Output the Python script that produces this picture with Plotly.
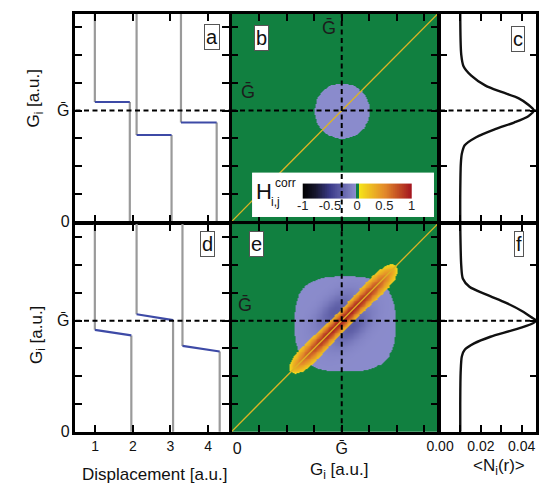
import numpy as np
import plotly.graph_objects as go

W, H = 539, 491
FONT = "Liberation Sans, Arial, sans-serif"
GBAR_TXT = "\u1E20"

# ---------------- data ----------------
G_BAR = 4.0          # position of G-bar on the G axes (a.u.)
G_TOP = 7.48         # top of the G axes
DISP_RANGE = [0.475, 4.56]
N_RANGE = [0, 0.0472]

# panel a: three trajectories (start/end displacement and G level of the blue plateau)
a_x_start = [0.99, 2.10, 3.28]
a_x_end = [1.92, 3.03, 4.23]
a_g_start = [4.31, 3.12, 3.57]
a_g_end = [4.31, 3.12, 3.57]

# panel d
d_x_start = [0.99, 2.10, 3.32]
d_x_end = [1.96, 3.07, 4.31]
d_g_start = [3.67, 4.23, 3.09]
d_g_end = [3.47, 4.02, 2.89]

# panel c: <N_i(r)> profile
c_g = [0.0, 1.0, 2.10, 2.45, 2.75, 3.04, 3.33, 3.57, 3.80, 4.00, 4.21, 4.44, 4.67, 4.90, 5.26, 5.60, 6.01, 7.48]
c_n = [0.0099, 0.0099, 0.0102, 0.0107, 0.0121, 0.0177, 0.0270, 0.0363, 0.0433, 0.0460, 0.0433, 0.0386,
       0.0301, 0.0223, 0.0153, 0.0115, 0.0104, 0.0099]

# panel f
f_g = [0.0, 1.0, 2.13, 2.72, 2.95, 3.18, 3.42, 3.65, 3.88, 4.00, 4.12, 4.35, 4.64, 4.93, 5.22, 5.51, 5.98, 7.48]
f_n = [0.0099, 0.0099, 0.0101, 0.0107, 0.0121, 0.0167, 0.0247, 0.0353, 0.0448, 0.0470, 0.0448, 0.0401,
       0.0324, 0.0231, 0.0144, 0.0112, 0.0104, 0.0099]

disp_ticks = [1, 2, 3, 4]
g_ticks = [0, 1, 2, 3, 4, 5, 6, 7]
g_ticktext = ["0", "", "", "", GBAR_TXT, "", "", ""]
n_ticks = [0.0, 0.01, 0.02, 0.03, 0.04]
n_ticktext = ["0.00", "", "0.02", "", "0.04"]
cb_ticks = [-1, -0.5, 0, 0.5, 1]
cb_labels = ["-1", "-0.5", "0", "0.5", "1"]
diag = [0.0, G_TOP]

# correlation-map parameters (H_ij^corr)
b_disk_center = (4.0, 4.0)
b_disk_radius = 1.0
b_disk_value = -0.04
e_blob_center = (4.1, 3.9)
e_blob_half = (1.82, 1.70)
e_blob_edge = -0.04
e_lobe_depth = -0.26
e_ridge_center = (4.05, 4.07)
e_ridge_half_len = 2.70
e_ridge_half_width = 0.31
e_ridge_peak = 0.88

# ---------------- correlation maps ----------------
n = 240
h = G_TOP / n
gc = (np.arange(n) + 0.5) * h
X, Y = np.meshgrid(gc, gc)

zb = np.zeros_like(X)
rb = np.hypot(X - b_disk_center[0], Y - b_disk_center[1])
zb[rb <= b_disk_radius] = b_disk_value

ze = np.zeros_like(X)
dxb = X - e_blob_center[0]
dyb = Y - e_blob_center[1]
blob = (np.abs(dxb) / e_blob_half[0]) ** 3 + (np.abs(dyb) / e_blob_half[1]) ** 3 <= 1
dx = X - e_ridge_center[0]
dy = Y - e_ridge_center[1]
s = (dx + dy) / np.sqrt(2)
t = (dy - dx) / np.sqrt(2)
lobe = np.exp(-(s / 0.85) ** 2 - ((np.abs(t) - 0.4) / 0.42) ** 2)
ze[blob] = (e_blob_edge + e_lobe_depth * lobe)[blob]
L = e_ridge_half_len
u = np.clip(np.abs(s) / L, 0, 1)
w = e_ridge_half_width * np.sqrt(np.clip(1 - u ** 4, 0, 1)) * (1 + 0.6 * u ** 2)
ridge = (np.abs(s) < L) & (np.abs(t) <= w)
val = 0.06 + e_ridge_peak * np.exp(-(t / (0.8 * w + 1e-9)) ** 2) * np.clip(1 - u ** 2, 0, 1) ** 0.6
ze[ridge] = val[ridge]
zb = np.round(zb, 3)
ze = np.round(ze, 3)

colorscale = [
    [0.0, "#000000"], [0.12, "#16162e"], [0.25, "#3a3a88"], [0.485, "#8c8dcd"],
    [0.485, "#118040"], [0.515, "#118040"], [0.515, "#f6e51a"], [0.75, "#e38a2a"], [1.0, "#a3141f"],
]

GRAY = "#9a9a9a"
BLUE = "#3d4aa6"

fig = go.Figure()


def steps(xs, xe, gs, ge, xa, ya):
    for x0, x1, g0, g1 in zip(xs, xe, gs, ge):
        fig.add_trace(go.Scatter(x=[x0, x0], y=[G_TOP + 1, g0], mode="lines",
                                 line=dict(color=GRAY, width=2.2), xaxis=xa, yaxis=ya,
                                 showlegend=False, hoverinfo="skip"))
        fig.add_trace(go.Scatter(x=[x1, x1], y=[g1, -1], mode="lines",
                                 line=dict(color=GRAY, width=2.2), xaxis=xa, yaxis=ya,
                                 showlegend=False, hoverinfo="skip"))
        fig.add_trace(go.Scatter(x=[x0, x1], y=[g0, g1], mode="lines",
                                 line=dict(color=BLUE, width=2.2), xaxis=xa, yaxis=ya,
                                 showlegend=False, hoverinfo="skip"))


steps(a_x_start, a_x_end, a_g_start, a_g_end, "x", "y")
steps(d_x_start, d_x_end, d_g_start, d_g_end, "x4", "y4")

for zz, xa, ya in [(zb, "x2", "y2"), (ze, "x5", "y5")]:
    fig.add_trace(go.Heatmap(x=gc, y=gc, z=zz, coloraxis="coloraxis", xaxis=xa, yaxis=ya,
                             zsmooth="best", hoverinfo="skip"))
    fig.add_trace(go.Scatter(x=diag, y=diag, mode="lines", line=dict(color="#dcb424", width=1.3),
                             xaxis=xa, yaxis=ya, showlegend=False, hoverinfo="skip"))

for gg, nn, xa, ya in [(c_g, c_n, "x3", "y3"), (f_g, f_n, "x6", "y6")]:
    fig.add_trace(go.Scatter(x=nn, y=gg, mode="lines",
                             line=dict(color="#111111", width=2.4, shape="spline", smoothing=0.8),
                             xaxis=xa, yaxis=ya, showlegend=False, hoverinfo="skip"))

# colour-bar inset: white box (subplot 7) and bar + labels (subplot 8, drawn on top)
CB_XR = [-1.9286, 1.4107]
CB_YR = [0, 45]
CB_BAR_Y = [19, 34]
CB_LABEL_Y = 10.5
cb_edges = np.linspace(-1, 1, 161)
cb_vals = (cb_edges[:-1] + cb_edges[1:]) / 2
fig.add_trace(go.Scatter(x=[-1.9107, 1.3929, 1.3929, -1.9107, -1.9107], y=[1, 1, 44, 44, 1],
                         mode="lines", fill="toself", fillcolor="white",
                         line=dict(color="#8a8a8a", width=1), xaxis="x7", yaxis="y7",
                         showlegend=False, hoverinfo="skip"))
fig.add_trace(go.Heatmap(x=cb_edges, y=CB_BAR_Y, z=[cb_vals], coloraxis="coloraxis",
                         xaxis="x8", yaxis="y8", hoverinfo="skip"))
fig.add_trace(go.Scatter(x=cb_ticks, y=[CB_LABEL_Y] * len(cb_ticks), mode="text", text=cb_labels,
                         textposition="middle center",
                         textfont=dict(family=FONT, size=13, color="#222"), cliponaxis=False,
                         xaxis="x8", yaxis="y8", showlegend=False, hoverinfo="skip"))

# ---------------- layout ----------------
LW = 2.5
HL = LW / 2
XB = [62, 222.5, 437, 538.5]     # vertical frame lines (px)
YB = [13, 227, 441]              # horizontal frame lines (px)


def xdom(i):
    return [(XB[i] + HL) / W, (XB[i + 1] - HL) / W]


def ydom(j):
    return [1 - (YB[j + 1] - HL) / H, 1 - (YB[j] + HL) / H]


base = dict(showline=True, linewidth=LW, linecolor="black", mirror="ticks", ticks="inside",
            ticklen=7, tickwidth=2, tickcolor="black", showgrid=False, zeroline=False,
            tickfont=dict(family=FONT, size=14, color="#111"), fixedrange=True)


def axis(dom, rng, anchor, **kw):
    d = dict(base)
    d.update(domain=dom, range=rng, anchor=anchor)
    d.update(kw)
    return d


TF16 = dict(family=FONT, size=16, color="#111")
lay = {}
# a
lay["xaxis"] = axis(xdom(0), DISP_RANGE, "y", tickmode="array", tickvals=disp_ticks, showticklabels=False)
lay["yaxis"] = axis(ydom(0), [0, G_TOP], "x", tickmode="array", tickvals=g_ticks, ticktext=g_ticktext,
                    tickfont=TF16)
# b
lay["xaxis2"] = axis(xdom(1), [0, G_TOP], "y2", tickmode="array", tickvals=g_ticks, showticklabels=False)
lay["yaxis2"] = axis(ydom(0), [0, G_TOP], "x2", tickmode="array", tickvals=g_ticks, showticklabels=False)
# c
lay["xaxis3"] = axis(xdom(2), N_RANGE, "y3", tickmode="array", tickvals=n_ticks, showticklabels=False)
lay["yaxis3"] = axis(ydom(0), [0, G_TOP], "x3", tickmode="array", tickvals=[2, 4, 6], showticklabels=False)
# d
lay["xaxis4"] = axis(xdom(0), DISP_RANGE, "y4", tickmode="array", tickvals=disp_ticks)
lay["yaxis4"] = axis(ydom(1), [0, G_TOP], "x4", tickmode="array", tickvals=g_ticks, ticktext=g_ticktext,
                     tickfont=TF16)
# e
lay["xaxis5"] = axis(xdom(1), [0, G_TOP], "y5", tickmode="array", tickvals=g_ticks,
                     ticktext=["\u2002\u20090", "", "", "", GBAR_TXT, "", "", ""],
                     tickfont=TF16)
lay["yaxis5"] = axis(ydom(1), [0, G_TOP], "x5", tickmode="array", tickvals=g_ticks, showticklabels=False)
# f
lay["xaxis6"] = axis(xdom(2), N_RANGE, "y6", tickmode="array", tickvals=n_ticks, ticktext=n_ticktext)
lay["yaxis6"] = axis(ydom(1), [0, G_TOP], "x6", tickmode="array", tickvals=[2, 4, 6], showticklabels=False)
# colour-bar inset
for k in ("7", "8"):
    lay["xaxis" + k] = dict(domain=[245 / W, 432 / W], range=CB_XR, anchor="y" + k, visible=False, fixedrange=True)
    lay["yaxis" + k] = dict(domain=[1 - 221 / H, 1 - 176 / H], range=CB_YR, anchor="x" + k, visible=False, fixedrange=True)

shapes = []
DASH = "5px,3.5px"
for xa, ya in [("x", "y"), ("x2", "y2"), ("x3", "y3"), ("x4", "y4"), ("x5", "y5"), ("x6", "y6")]:
    shapes.append(dict(type="line", xref=xa + " domain", yref=ya, x0=0, x1=1, y0=G_BAR, y1=G_BAR,
                       line=dict(color="black", width=2, dash=DASH), layer="above"))
for xa, ya in [("x2", "y2"), ("x5", "y5")]:
    shapes.append(dict(type="line", xref=xa, yref=ya + " domain", x0=G_BAR, x1=G_BAR, y0=0, y1=1,
                       line=dict(color="black", width=2, dash=DASH), layer="above"))


def P(x, y):
    return x / W, 1 - y / H


ann = []


def text(x, y, s, size=16, color="#111", angle=0, **kw):
    px, py = P(x, y)
    d = dict(x=px, y=py, xref="paper", yref="paper", text=s, showarrow=False, textangle=angle,
             font=dict(family=FONT, size=size, color=color), xanchor="center", yanchor="middle")
    d.update(kw)
    ann.append(d)


# panel letters
for (x, y, s) in [(203.5, 38, "a"), (254.5, 38.5, "b"), (518, 40, "c"),
                  (199.5, 249, "d"), (249, 249, "e"), (519.5, 249, "f")]:
    text(x, y, s, size=20, bgcolor="white", bordercolor="#555", borderwidth=1, borderpad=1)

# G-bar labels inside maps
text(324, 29, GBAR_TXT, size=18, color="#1c1c1c")
text(240.5, 94, GBAR_TXT, size=18, color="#1c1c1c")
text(238, 311, GBAR_TXT, size=18, color="#1c1c1c")

# colour-bar title
text(257, 195, "H", size=22, color="#111")
text(279, 186, "corr", size=12, color="#111")
text(269, 206, "i,j", size=12, color="#111")

# axis titles
TS = 17
text(22, 100, "G<sub>i</sub> [a.u.]", size=TS, angle=-90)
text(24, 341, "G<sub>i</sub> [a.u.]", size=TS, angle=-90)
text(145, 483, "Displacement [a.u.]", size=TS)
text(334, 480, "G<sub>i</sub> [a.u.]", size=TS)
text(499, 476, "&lt;N<sub>i</sub>(r)&gt;", size=TS)

fig.update_layout(
    width=W, height=H, margin=dict(l=0, r=0, t=0, b=0),
    paper_bgcolor="white", plot_bgcolor="white", showlegend=False,
    coloraxis=dict(colorscale=colorscale, cmin=-1, cmax=1, showscale=False),
    shapes=shapes, annotations=ann, font=dict(family=FONT),
    **lay,
)

fig.write_html("out.html")
